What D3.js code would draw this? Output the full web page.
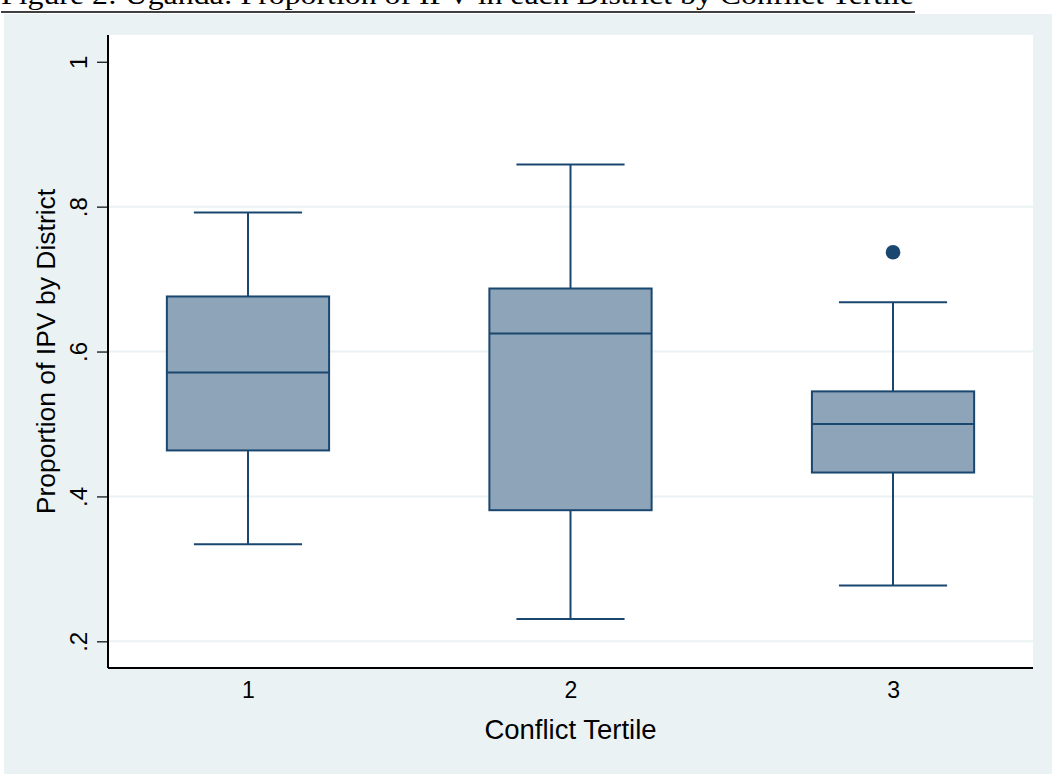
<!DOCTYPE html>
<html>
<head>
<meta charset="utf-8">
<script src="https://cdn.jsdelivr.net/npm/d3@7"></script>
<style>
  html, body { margin: 0; padding: 0; background: #fff; }
  svg { display: block; }
</style>
</head>
<body>
<svg id="chart" width="1052" height="774"></svg>
<script>
// box plot summary per conflict tertile
const categories = ["1", "2", "3"];
const upperWhisker = [0.792, 0.858, 0.668];
const q3 = [0.676, 0.687, 0.545];
const median = [0.571, 0.625, 0.500];
const q1 = [0.4635, 0.381, 0.433];
const lowerWhisker = [0.334, 0.231, 0.277];
const outliers = [[], [], [0.737]];

const yTicks = [0.2, 0.4, 0.6, 0.8, 1];
const yTickLabels = [".2", ".4", ".6", ".8", "1"];

const titleText = "Figure 2: Uganda: Proportion of IPV in each District by Conflict Tertile";
const xTitle = "Conflict Tertile";
const yTitle = "Proportion of IPV by District";

const navy = "#1a476f";
const boxFill = "#8da4b9";
const bg = "#eaf2f3";
const sans = "'Liberation Sans', Arial, Helvetica, sans-serif";

const svg = d3.select("#chart");

// outer stata-style panel
svg.append("rect")
  .attr("x", 4).attr("y", 14)
  .attr("width", 1048).attr("height", 760)
  .attr("fill", bg);

// figure caption, cut at the top edge like the source page
svg.append("text")
  .attr("x", 1).attr("y", 4)
  .attr("font-family", "'Liberation Serif', 'Times New Roman', serif")
  .attr("font-size", 28)
  .attr("textLength", 913)
  .attr("lengthAdjust", "spacingAndGlyphs")
  .attr("fill", "#000")
  .text(titleText);
svg.append("line")
  .attr("x1", 1).attr("x2", 915)
  .attr("y1", 12).attr("y2", 12)
  .attr("stroke", "#000").attr("stroke-width", 1.5);

const plot = { left: 108, right: 1033, top: 35, bottom: 668 };

svg.append("rect")
  .attr("x", plot.left).attr("y", plot.top)
  .attr("width", plot.right - plot.left).attr("height", plot.bottom - plot.top)
  .attr("fill", "#fff");

const y = d3.scaleLinear()
  .domain([0.1632, 1.0369])
  .range([plot.bottom, plot.top]);

const x = d3.scalePoint()
  .domain(categories)
  .range([plot.left, plot.right])
  .padding(0.434);

const boxW = x.step() * 0.503;
const capW = boxW * 2 / 3;

// grid lines
svg.append("g")
  .selectAll("line")
  .data(yTicks.filter(t => t < 1))
  .join("line")
  .attr("x1", plot.left).attr("x2", plot.right)
  .attr("y1", d => y(d)).attr("y2", d => y(d))
  .attr("stroke", bg).attr("stroke-width", 2);

const data = categories.map((c, i) => ({
  c, hi: upperWhisker[i], q3: q3[i], med: median[i], q1: q1[i], lo: lowerWhisker[i], out: outliers[i]
}));

const boxes = svg.append("g")
  .selectAll("g")
  .data(data)
  .join("g")
  .attr("transform", d => `translate(${x(d.c)},0)`);

// whiskers
boxes.append("line")
  .attr("x1", 0).attr("x2", 0)
  .attr("y1", d => y(d.hi)).attr("y2", d => y(d.q3))
  .attr("stroke", navy).attr("stroke-width", 2);
boxes.append("line")
  .attr("x1", 0).attr("x2", 0)
  .attr("y1", d => y(d.q1)).attr("y2", d => y(d.lo))
  .attr("stroke", navy).attr("stroke-width", 2);
boxes.append("line")
  .attr("x1", -capW / 2).attr("x2", capW / 2)
  .attr("y1", d => y(d.hi)).attr("y2", d => y(d.hi))
  .attr("stroke", navy).attr("stroke-width", 2);
boxes.append("line")
  .attr("x1", -capW / 2).attr("x2", capW / 2)
  .attr("y1", d => y(d.lo)).attr("y2", d => y(d.lo))
  .attr("stroke", navy).attr("stroke-width", 2);

// boxes
boxes.append("rect")
  .attr("x", -boxW / 2)
  .attr("width", boxW)
  .attr("y", d => y(d.q3))
  .attr("height", d => y(d.q1) - y(d.q3))
  .attr("fill", boxFill)
  .attr("stroke", navy).attr("stroke-width", 2);
boxes.append("line")
  .attr("x1", -boxW / 2).attr("x2", boxW / 2)
  .attr("y1", d => y(d.med)).attr("y2", d => y(d.med))
  .attr("stroke", navy).attr("stroke-width", 2);

// outside values
boxes.selectAll("circle")
  .data(d => d.out)
  .join("circle")
  .attr("cx", 0).attr("cy", d => y(d))
  .attr("r", 7.3)
  .attr("fill", navy);

// y axis
const yAxis = svg.append("g")
  .attr("transform", `translate(${plot.left},0)`)
  .call(d3.axisLeft(y)
    .tickValues(yTicks)
    .tickSize(11)
    .tickPadding(0)
    .tickFormat((d, i) => yTickLabels[i]));
yAxis.select(".domain")
  .attr("d", `M0,${plot.top}V${plot.bottom}`)
  .attr("stroke", "#000").attr("stroke-width", 2);
yAxis.selectAll(".tick line").attr("stroke", "#000").attr("stroke-width", 1.2);
yAxis.selectAll(".tick text")
  .attr("transform", "rotate(-90)")
  .attr("x", 0).attr("y", -21).attr("dy", 0)
  .attr("text-anchor", "middle")
  .attr("font-family", sans).attr("font-size", 24)
  .attr("fill", "#000");

// x axis
const xAxis = svg.append("g")
  .attr("transform", `translate(0,${plot.bottom})`)
  .call(d3.axisBottom(x).tickSize(0).tickPadding(0));
xAxis.select(".domain")
  .attr("d", `M${plot.left},0H${plot.right}`)
  .attr("stroke", "#000").attr("stroke-width", 2);
xAxis.selectAll(".tick text")
  .attr("y", 30).attr("dy", 0)
  .attr("font-family", sans).attr("font-size", 23)
  .attr("fill", "#000");

// axis titles
svg.append("text")
  .attr("x", (plot.left + plot.right) / 2).attr("y", 739)
  .attr("text-anchor", "middle")
  .attr("font-family", sans).attr("font-size", 27.5)
  .attr("fill", "#000")
  .text(xTitle);

svg.append("text")
  .attr("transform", `translate(55,${y(0.6)}) rotate(-90)`)
  .attr("text-anchor", "middle")
  .attr("font-family", sans).attr("font-size", 26.5)
  .attr("fill", "#000")
  .text(yTitle);
</script>
</body>
</html>
